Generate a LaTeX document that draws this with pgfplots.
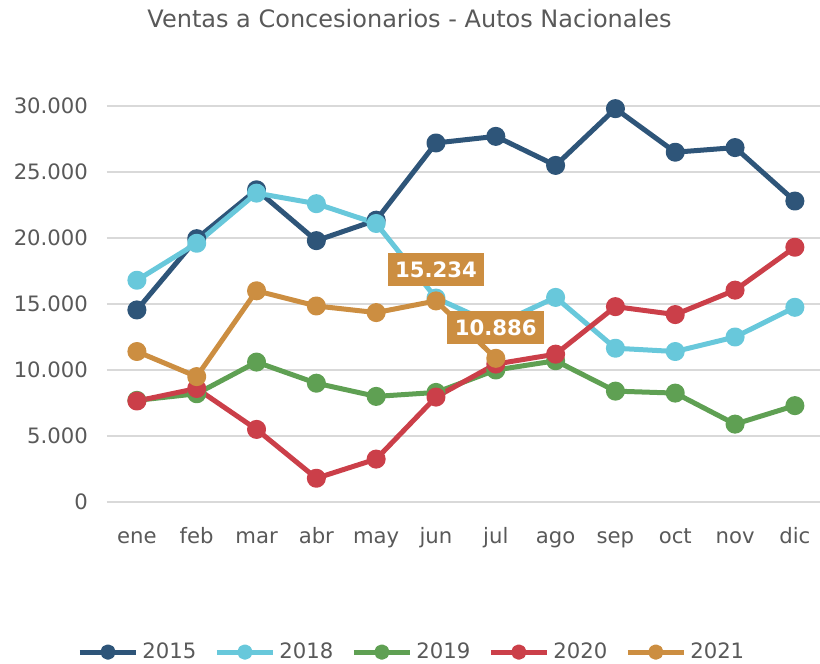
\documentclass[border=0pt]{standalone}
\usepackage{fontspec}
\setmainfont{DejaVu Sans}
\usepackage{pgfplots}
\pgfplotsset{compat=1.18}

\definecolor{c15}{HTML}{2E5579}
\definecolor{c18}{HTML}{68C8DB}
\definecolor{c19}{HTML}{5FA053}
\definecolor{c20}{HTML}{CB3F49}
\definecolor{c21}{HTML}{CC8E41}
\definecolor{txt}{HTML}{595959}
\definecolor{gridc}{HTML}{D9D9D9}

\newcommand{\chartfont}{\fontsize{10.6}{12.7}\selectfont}

\begin{document}
\begin{tikzpicture}
\useasboundingbox (0,0) rectangle (410pt,332pt);
\node[text=txt, font=\fontsize{12}{14}\selectfont] at (204.75pt,322.5pt) {Ventas a Concesionarios - Autos Nacionales};
\begin{axis}[
  at={(53.5pt,81pt)}, anchor=south west,
  width=356.5pt, height=198pt, scale only axis,
  xmin=-0.5, xmax=11.42, ymin=0, ymax=30000,
  xtick={0,...,11},
  xticklabels={ene,feb,mar,abr,may,jun,jul,ago,sep,oct,nov,dic},
  ytick={0,5000,...,30000},
  scaled y ticks=false,
  yticklabel style={/pgf/number format/.cd, 1000 sep={.}, assume math mode=true},
  xticklabel style={text height=8pt, text depth=2.5pt},
  tick label style={font=\chartfont, text=txt},
  yticklabel shift=6pt,
  xticklabel shift=9pt,
  axis line style={draw=none},
  tick style={draw=none},
  ymajorgrids,
  major grid style={color=gridc, line width=0.75pt},
  clip=false,
  every axis plot/.append style={line width=2.5pt, line join=round, mark=*, mark size=3.5pt, mark options={draw=none}},
  legend columns=5,
  legend style={at={(0.429,-0.379)}, anchor=center, draw=none, fill=none,
    font=\chartfont, text=txt,
    /tikz/every even column/.append style={column sep=7pt}},
  legend image code/.code={\draw[mark repeat=2, mark phase=2, #1, mark size=2.6pt] plot coordinates {(0pt,0pt) (14pt,0pt) (28pt,0pt)};},
]
\addplot[color=c15] coordinates {
  (0,14550) (1,19950) (2,23650) (3,19800) (4,21350) (5,27200)
  (6,27700) (7,25500) (8,29800) (9,26500) (10,26850) (11,22800)};
\addlegendentry{2015}
\addplot[color=c18] coordinates {
  (0,16800) (1,19600) (2,23400) (3,22600) (4,21100) (5,15450)
  (6,13400) (7,15500) (8,11650) (9,11400) (10,12500) (11,14750)};
\addlegendentry{2018}
\addplot[color=c19] coordinates {
  (0,7700) (1,8200) (2,10600) (3,9000) (4,8000) (5,8300)
  (6,10000) (7,10700) (8,8400) (9,8250) (10,5900) (11,7300)};
\addlegendentry{2019}
\addplot[color=c20] coordinates {
  (0,7650) (1,8600) (2,5500) (3,1800) (4,3250) (5,7950)
  (6,10450) (7,11200) (8,14800) (9,14200) (10,16050) (11,19300)};
\addlegendentry{2020}
\addplot[color=c21] coordinates {
  (0,11400) (1,9500) (2,16000) (3,14850) (4,14350) (5,15234) (6,10886)};
\addlegendentry{2021}
\coordinate (lab1) at (axis cs:5,15234);
\coordinate (lab2) at (axis cs:6,10886);
\end{axis}
% data labels drawn after the axis so they sit above the markers
\foreach \p/\t in {lab1/15.234, lab2/10.886}
  \node[fill=c21, text=white, font=\chartfont\bfseries, inner xsep=3.75pt, inner ysep=0pt,
        minimum height=16.5pt, yshift=15.5pt] at (\p) {\t};
\end{tikzpicture}
\end{document}
